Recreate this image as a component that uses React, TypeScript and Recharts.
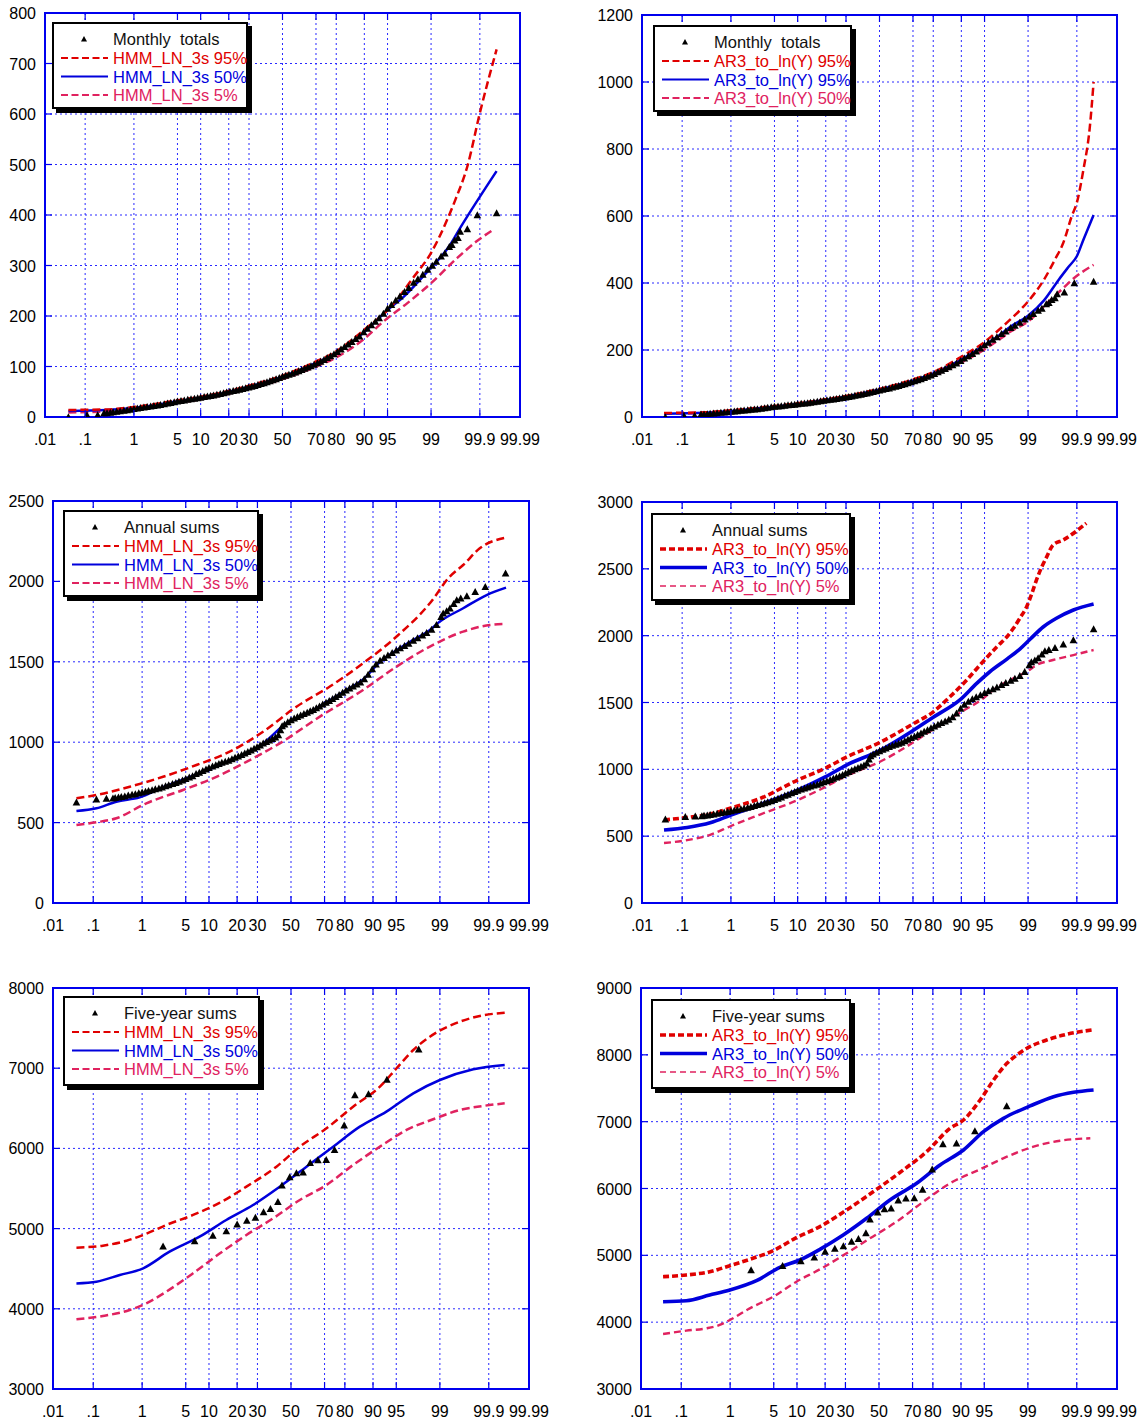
import React from 'react';
import { ComposedChart, Line, Scatter, XAxis, YAxis, CartesianGrid, ReferenceArea, Legend } from 'recharts';

type Pair = [number, number]; // [non-exceedance probability in %, value]

// ---- probability axis ----
const PROB_TICKS = [0.01, 0.1, 1, 5, 10, 20, 30, 50, 70, 80, 90, 95, 99, 99.9, 99.99];
const PROB_LABELS = ['.01', '.1', '1', '5', '10', '20', '30', '50', '70', '80', '90', '95', '99', '99.9', '99.99'];

// ---- value axes ----
const MONTHLY_TICKS_HMM = [0, 100, 200, 300, 400, 500, 600, 700, 800];
const MONTHLY_TICKS_AR3 = [0, 200, 400, 600, 800, 1000, 1200];
const ANNUAL_TICKS_HMM = [0, 500, 1000, 1500, 2000, 2500];
const ANNUAL_TICKS_AR3 = [0, 500, 1000, 1500, 2000, 2500, 3000];
const FIVEYR_TICKS_HMM = [3000, 4000, 5000, 6000, 7000, 8000];
const FIVEYR_TICKS_AR3 = [3000, 4000, 5000, 6000, 7000, 8000, 9000];

// ---- observed series ----
const MONTHLY_OBS: Pair[] = [
  [0.04, 0], [0.11, 4], [0.19, 4], [0.26, 8], [0.3, 8], [0.35, 9], [0.4, 10], [0.47, 11], [0.55, 12], [0.65, 13],
  [0.75, 14], [0.87, 15], [1.0, 16], [1.15, 17], [1.3, 18], [1.5, 19], [1.7, 20], [1.95, 21], [2.2, 22], [2.5, 23],
  [2.8, 24], [3.2, 25.5], [3.6, 27], [4.0, 28], [4.5, 29.5], [5.0, 31], [5.6, 32], [6.2, 33], [6.9, 34.5], [7.6, 35.5],
  [8.4, 36.5], [9.2, 37.5], [10, 38.5], [11, 40], [12, 41], [13, 42], [14, 43], [15.2, 44.5], [16.5, 46], [17.8, 47.5],
  [19.1, 49], [20.5, 50.5], [22, 52], [23.5, 53], [25, 54.5], [26.6, 56], [28.2, 57.5], [29.8, 59], [31.5, 60.5], [33.2, 62],
  [35, 64], [36.8, 65.5], [38.6, 67], [40.4, 69], [42.2, 71], [44, 73], [46, 75], [48, 77.5], [50, 80], [52, 82],
  [54, 84], [56, 86], [58, 88.5], [60, 91], [61.8, 93.5], [63.6, 96], [65.4, 98.5], [67.2, 101], [69, 104], [70.8, 107],
  [72.5, 110], [74.2, 113.5], [75.8, 117], [77.4, 120.5], [79, 124.5], [80.5, 129], [82, 134], [83.4, 139], [84.8, 144], [86.1, 149],
  [87.4, 155], [88.6, 160], [89.8, 168], [90.8, 175], [91.8, 182], [92.7, 189], [93.5, 196], [94.3, 205], [95, 215], [95.6, 222],
  [96.2, 231], [96.7, 239], [97.2, 248], [97.6, 256], [98, 266], [98.3, 273], [98.6, 282], [98.85, 292], [99.05, 300], [99.2, 308],
  [99.35, 318], [99.45, 324], [99.55, 337], [99.6, 341], [99.65, 350], [99.7, 355], [99.73, 367], [99.81, 372], [99.886, 400], [99.96, 404],
];
const ANNUAL_OBS: Pair[] = [
  [0.04, 626], [0.118, 645], [0.196, 649], [0.27, 651], [0.3, 654], [0.35, 657], [0.4, 660], [0.47, 664], [0.55, 669], [0.65, 674],
  [0.75, 678], [0.87, 683], [1.0, 688], [1.15, 693], [1.3, 698], [1.5, 703], [1.7, 708], [1.95, 714], [2.2, 720], [2.5, 727],
  [2.8, 734], [3.2, 741], [3.6, 748], [4.0, 755], [4.5, 763], [5.0, 772], [5.6, 781], [6.2, 790], [6.9, 803], [7.6, 812],
  [8.4, 822], [9.2, 832], [10, 841], [11, 850], [12, 858], [13, 866], [14, 873], [15.2, 880], [16.5, 886], [17.8, 895],
  [19.1, 904], [20.5, 913], [22, 922], [23.5, 931], [25, 940], [26.6, 950], [28.2, 960], [29.8, 970], [31.5, 981], [33.2, 993],
  [35, 1002], [36.8, 1012], [38.6, 1021], [40.4, 1030], [42.2, 1045], [43.5, 1075], [44.5, 1100], [46, 1112], [48, 1125], [50, 1137],
  [52, 1148], [54, 1158], [56, 1168], [58, 1177], [60, 1185], [61.8, 1193], [63.6, 1201], [65.4, 1212], [67.2, 1223], [69, 1235],
  [70.8, 1246], [72.5, 1258], [74.2, 1270], [75.8, 1282], [77.4, 1294], [79, 1308], [80.5, 1322], [82, 1335], [83.4, 1348], [84.8, 1360],
  [86.1, 1372], [87.4, 1392], [88.6, 1420], [89.8, 1455], [90.8, 1485], [91.8, 1508], [92.7, 1525], [93.5, 1540], [94.3, 1556], [95, 1572],
  [95.6, 1586], [96.2, 1600], [96.7, 1614], [97.2, 1632], [97.6, 1648], [98, 1665], [98.3, 1680], [98.6, 1700], [98.85, 1730], [99.05, 1780],
  [99.13, 1802], [99.25, 1815], [99.35, 1833], [99.45, 1860], [99.52, 1884], [99.6, 1895], [99.7, 1909], [99.8, 1936], [99.88, 1967], [99.96, 2050],
];
const FIVEYR_OBS: Pair[] = [
  [2.28, 4780], [6.6, 4845], [11.1, 4913], [15.6, 4970], [20.0, 5055], [24.5, 5100], [28.9, 5138], [33.4, 5205],
  [37.4, 5247], [41.9, 5333], [44.4, 5540], [49.2, 5643], [53.4, 5693], [57.5, 5703], [61.8, 5822], [66.3, 5855],
  [70.9, 5858], [75.2, 5983], [79.7, 6289], [84.1, 6666], [88.7, 6677], [93.3, 6858], [97.7, 7235],
];

// ---- HMM_LN_3s simulated quantiles ----
const HMM_MONTHLY_95: Pair[] = [[0.04, 14], [0.3, 15], [1, 20], [5, 33], [10, 40], [30, 62], [50, 82], [70, 110], [80, 130], [90, 173], [95.5, 218], [98, 277], [99, 325], [99.47, 384], [99.66, 430], [99.81, 496], [99.9, 602], [99.96, 728]];
const HMM_MONTHLY_50: Pair[] = [[0.04, 12], [0.3, 14], [1, 18], [5, 31], [10, 38], [30, 60], [50, 80], [70, 107], [80, 127], [90, 168], [95, 212], [97.1, 238], [98.9, 291], [99.54, 337], [99.74, 377], [99.96, 487]];
const HMM_MONTHLY_5: Pair[] = [[0.04, 9], [0.3, 11], [1, 15], [5, 28], [10, 35], [30, 56], [50, 75], [70, 100], [80, 118], [90, 155], [94.3, 189], [97.5, 226], [99, 265], [99.69, 315], [99.89, 350], [99.95, 370]];

const HMM_ANNUAL_95: Pair[] = [[0.04, 651], [0.118, 672], [0.587, 723], [2.28, 785], [6.97, 858], [16.9, 941], [33.1, 1065], [53.4, 1221], [72.8, 1346], [87, 1491], [95.05, 1657], [98.5, 1864], [99.345, 2030], [99.643, 2102], [99.841, 2206], [99.961, 2272]];
const HMM_ANNUAL_50: Pair[] = [[0.04, 572], [0.118, 589], [0.317, 630], [0.904, 657], [2.3, 720], [7, 800], [17, 885], [33, 990], [45, 1100], [63.5, 1200], [80.7, 1325], [87, 1390], [91.8, 1500], [95, 1570], [97.2, 1636], [98.5, 1698], [99, 1750], [99.643, 1833], [99.888, 1915], [99.961, 1961]];
const HMM_ANNUAL_5: Pair[] = [[0.04, 485], [0.118, 502], [0.317, 527], [1.19, 620], [4.58, 703], [12.2, 785], [24.3, 878], [43.05, 993], [67.4, 1159], [87, 1325], [95.05, 1470], [98.5, 1595], [99.643, 1688], [99.906, 1729], [99.955, 1735]];

const HMM_FIVEYR_95: Pair[] = [[0.04, 4762], [0.164, 4787], [0.508, 4849], [1.045, 4920], [2.56, 5045], [6.3, 5170], [13.35, 5323], [24.3, 5523], [41, 5772], [55.5, 6022], [71.05, 6250], [83.4, 6520], [91.77, 6770], [95.05, 6999], [97.2, 7227], [98.5, 7393], [99.585, 7580], [99.841, 7651], [99.958, 7692]];
const HMM_FIVEYR_50: Pair[] = [[0.04, 4317], [0.118, 4338], [0.374, 4421], [1.045, 4505], [2.89, 4712], [7.66, 4899], [15.6, 5107], [27.66, 5294], [43.05, 5523], [59.56, 5772], [74.5, 6022], [85.9, 6271], [93.2, 6458], [97.2, 6687], [99, 6853], [99.781, 6986], [99.958, 7040]];
const HMM_FIVEYR_5: Pair[] = [[0.04, 3869], [0.164, 3910], [0.587, 3985], [1.19, 4069], [2.56, 4213], [6.3, 4443], [13.35, 4692], [24.3, 4920], [39, 5128], [55.5, 5357], [71.05, 5544], [83.4, 5793], [91.77, 6022], [96.45, 6230], [98.68, 6363], [99.585, 6479], [99.865, 6529], [99.958, 6562]];

// ---- AR3_to_ln(Y) simulated quantiles ----
const AR3_MONTHLY_95: Pair[] = [[0.037, 12], [0.3, 14], [1, 20], [5, 33], [10, 41], [30, 63], [50, 84], [70, 112], [80, 134], [90, 180], [95, 224], [97, 262], [98, 292], [99, 345], [99.5, 410], [99.7, 470], [99.8, 520], [99.87, 600], [99.9, 640], [99.93, 740], [99.95, 860], [99.96, 1000]];
const AR3_MONTHLY_50: Pair[] = [[0.037, 10], [0.3, 13], [1, 18], [5, 31], [10, 39], [30, 61], [50, 82], [70, 109], [80, 130], [90, 172], [95, 215], [97, 245], [98, 270], [99, 302], [99.5, 348], [99.75, 410], [99.85, 450], [99.9, 480], [99.93, 530], [99.96, 603]];
const AR3_MONTHLY_5: Pair[] = [[0.037, 10], [0.3, 12], [1, 17], [5, 29], [10, 37], [30, 58], [50, 79], [70, 105], [80, 124], [90, 163], [95, 202], [97, 232], [98, 255], [99, 285], [99.6, 345], [99.8, 385], [99.87, 409], [99.96, 454]];

const AR3_ANNUAL_95: Pair[] = [[0.037, 621], [0.13, 640], [0.4, 665], [1, 711], [3, 780], [10, 920], [20, 1010], [30, 1090], [50, 1200], [70, 1340], [80, 1430], [86.5, 1543], [91.4, 1668], [94.2, 1780], [96.7, 1917], [97.7, 1992], [98.2, 2055], [98.6, 2130], [98.94, 2217], [99.15, 2317], [99.3, 2416], [99.45, 2516], [99.56, 2591], [99.67, 2678], [99.8, 2716], [99.94, 2841]];
const AR3_ANNUAL_50: Pair[] = [[0.037, 546], [0.13, 565], [0.4, 600], [1, 658], [3, 735], [10, 845], [20, 945], [30, 1030], [50, 1140], [70, 1290], [80, 1390], [89.6, 1519], [93.6, 1643], [95.8, 1730], [97.7, 1825], [98.6, 1900], [99.09, 1975], [99.48, 2065], [99.72, 2130], [99.88, 2192], [99.96, 2237]];
const AR3_ANNUAL_5: Pair[] = [[0.037, 449], [0.13, 470], [0.4, 510], [1, 576], [3, 660], [10, 770], [20, 870], [30, 950], [50, 1055], [70, 1200], [80, 1300], [90, 1430], [94.8, 1531], [96.25, 1593], [98.2, 1681], [98.94, 1730], [99.3, 1780], [99.67, 1818], [99.88, 1855], [99.96, 1893]];

const AR3_FIVEYR_95: Pair[] = [[0.037, 4680], [0.13, 4706], [0.408, 4755], [0.99, 4845], [2.17, 4940], [4.91, 5070], [9.85, 5264], [17.8, 5429], [30.6, 5678], [48.56, 5988], [64.8, 6277], [77.2, 6551], [86.65, 6900], [90.66, 7025], [94.3, 7324], [96.33, 7623], [97.72, 7873], [98.44, 7998], [98.96, 8098], [99.56, 8222], [99.804, 8297], [99.957, 8372]];
const AR3_FIVEYR_50: Pair[] = [[0.037, 4306], [0.13, 4321], [0.408, 4406], [0.99, 4481], [2.78, 4621], [6.06, 4820], [10.8, 4930], [17.8, 5090], [28.8, 5304], [42.35, 5554], [56.8, 5828], [72.2, 6078], [83, 6352], [90.66, 6576], [94.87, 6850], [97.41, 7050], [99.09, 7235], [99.681, 7374], [99.882, 7440], [99.96, 7474]];
const AR3_FIVEYR_5: Pair[] = [[0.037, 3823], [0.13, 3873], [0.351, 3908], [0.639, 3958], [0.99, 4033], [2.17, 4207], [4.91, 4381], [9.85, 4606], [17.8, 4791], [30.6, 5030], [44.4, 5255], [60.9, 5504], [75.6, 5803], [86.65, 6078], [94.3, 6287], [97.72, 6476], [99.213, 6626], [99.767, 6715], [99.952, 6751]];

// ---- styling ----
const FONT = '"Liberation Sans", Arial, Helvetica, sans-serif';
const RED = '#e00000';
const BLUE = '#0000dc';
const PINK = '#e0225f';
const GRID = '#2a2aff';
const FRAME = '#0000ee';

// inverse of the standard normal CDF (Acklam's rational approximation)
function normInv(p: number): number {
  const a = [-39.69683028665376, 220.9460984245205, -275.9285104469687, 138.357751867269, -30.66479806614716, 2.506628277459239];
  const b = [-54.47609879822406, 161.5858368580409, -155.6989798598866, 66.80131188771972, -13.28068155288572];
  const c = [-0.007784894002430293, -0.3223964580411365, -2.400758277161838, -2.549732539343734, 4.374664141464968, 2.938163982698783];
  const d = [0.007784695709041462, 0.3224671290700398, 2.445134137142996, 3.754408661907416];
  const pl = 0.02425;
  if (p < pl) {
    const q = Math.sqrt(-2 * Math.log(p));
    return (((((c[0] * q + c[1]) * q + c[2]) * q + c[3]) * q + c[4]) * q + c[5]) / ((((d[0] * q + d[1]) * q + d[2]) * q + d[3]) * q + 1);
  }
  if (p > 1 - pl) {
    const q = Math.sqrt(-2 * Math.log(1 - p));
    return -(((((c[0] * q + c[1]) * q + c[2]) * q + c[3]) * q + c[4]) * q + c[5]) / ((((d[0] * q + d[1]) * q + d[2]) * q + d[3]) * q + 1);
  }
  const q = p - 0.5;
  const r = q * q;
  return (((((a[0] * r + a[1]) * r + a[2]) * r + a[3]) * r + a[4]) * r + a[5]) * q / (((((b[0] * r + b[1]) * r + b[2]) * r + b[3]) * r + b[4]) * r + 1);
}
const toZ = (pct: number) => normInv(pct / 100);
const toPoints = (arr: Pair[]) => arr.map(([p, v]) => ({ z: toZ(p), v }));

const Z_TICKS = PROB_TICKS.map(toZ);
const Z_MIN = Z_TICKS[0];
const Z_MAX = Z_TICKS[Z_TICKS.length - 1];

interface Curve { label: string; color: string; data: Pair[]; width: number; dash?: string; legendWidth: number; legendDash?: string }
interface PanelSpec {
  id: string;
  left: number; top: number;
  x0: number; x1: number; y0: number; y1: number;
  yTicks: number[];
  title: string;
  obs: Pair[];
  curves: Curve[];
  box: { x: number; y: number; w: number; h: number };
}

const hmmCurves = (q95: Pair[], q50: Pair[], q5: Pair[]): Curve[] => [
  { label: 'HMM_LN_3s 95%', color: RED, data: q95, width: 2.5, dash: '8 4', legendWidth: 2, legendDash: '7 3.5' },
  { label: 'HMM_LN_3s 50%', color: BLUE, data: q50, width: 2.5, legendWidth: 2 },
  { label: 'HMM_LN_3s 5%', color: PINK, data: q5, width: 2.5, dash: '8 4', legendWidth: 2, legendDash: '7 3.5' },
];

const PANELS: PanelSpec[] = [
  {
    id: 'monthly-hmm', left: 0, top: 0, x0: 45, x1: 520, y0: 13, y1: 417,
    yTicks: MONTHLY_TICKS_HMM, title: 'Monthly  totals', obs: MONTHLY_OBS,
    curves: hmmCurves(HMM_MONTHLY_95, HMM_MONTHLY_50, HMM_MONTHLY_5),
    box: { x: 52, y: 22, w: 196, h: 87 },
  },
  {
    id: 'monthly-ar3', left: 580, top: 0, x0: 642, x1: 1117, y0: 15, y1: 417,
    yTicks: MONTHLY_TICKS_AR3, title: 'Monthly  totals', obs: MONTHLY_OBS,
    curves: [
      { label: 'AR3_to_ln(Y) 95%', color: RED, data: AR3_MONTHLY_95, width: 2.5, dash: '8 4', legendWidth: 2, legendDash: '7 3.5' },
      { label: 'AR3_to_ln(Y) 95%', color: BLUE, data: AR3_MONTHLY_50, width: 2.5, legendWidth: 2 },
      { label: 'AR3_to_ln(Y) 50%', color: PINK, data: AR3_MONTHLY_5, width: 2.5, dash: '8 4', legendWidth: 2, legendDash: '7 3.5' },
    ],
    box: { x: 653, y: 25, w: 199, h: 87 },
  },
  {
    id: 'annual-hmm', left: 0, top: 480, x0: 53, x1: 529, y0: 501, y1: 903,
    yTicks: ANNUAL_TICKS_HMM, title: 'Annual sums', obs: ANNUAL_OBS,
    curves: hmmCurves(HMM_ANNUAL_95, HMM_ANNUAL_50, HMM_ANNUAL_5),
    box: { x: 63, y: 510, w: 196, h: 87 },
  },
  {
    id: 'annual-ar3', left: 580, top: 480, x0: 642, x1: 1117, y0: 502, y1: 903,
    yTicks: ANNUAL_TICKS_AR3, title: 'Annual sums', obs: ANNUAL_OBS,
    curves: [
      { label: 'AR3_to_ln(Y) 95%', color: RED, data: AR3_ANNUAL_95, width: 3.6, dash: '6 3', legendWidth: 3.6, legendDash: '6 3' },
      { label: 'AR3_to_ln(Y) 50%', color: BLUE, data: AR3_ANNUAL_50, width: 3.6, legendWidth: 3.6 },
      { label: 'AR3_to_ln(Y) 5%', color: PINK, data: AR3_ANNUAL_5, width: 2.4, dash: '7 4', legendWidth: 1.5, legendDash: '6 4' },
    ],
    box: { x: 651, y: 513, w: 200, h: 88 },
  },
  {
    id: 'fiveyr-hmm', left: 0, top: 968, x0: 53, x1: 529, y0: 988, y1: 1389,
    yTicks: FIVEYR_TICKS_HMM, title: 'Five-year sums', obs: FIVEYR_OBS,
    curves: hmmCurves(HMM_FIVEYR_95, HMM_FIVEYR_50, HMM_FIVEYR_5),
    box: { x: 63, y: 996, w: 197, h: 90 },
  },
  {
    id: 'fiveyr-ar3', left: 580, top: 968, x0: 641, x1: 1117, y0: 988, y1: 1389,
    yTicks: FIVEYR_TICKS_AR3, title: 'Five-year sums', obs: FIVEYR_OBS,
    curves: [
      { label: 'AR3_to_ln(Y) 95%', color: RED, data: AR3_FIVEYR_95, width: 3.6, dash: '6 3', legendWidth: 3.6, legendDash: '6 3' },
      { label: 'AR3_to_ln(Y) 50%', color: BLUE, data: AR3_FIVEYR_50, width: 3.6, legendWidth: 3.6 },
      { label: 'AR3_to_ln(Y) 5%', color: PINK, data: AR3_FIVEYR_5, width: 2.4, dash: '7 4', legendWidth: 1.5, legendDash: '6 4' },
    ],
    box: { x: 651, y: 999, w: 200, h: 90 },
  },
];

// small filled triangle marker
const Triangle = (props: any) => {
  const { cx, cy } = props;
  if (cx == null || cy == null) return null;
  return <path d={`M${cx - 3.8},${cy + 3.2} L${cx + 3.8},${cy + 3.2} L${cx},${cy - 3.8} Z`} fill="#000" />;
};

function LegendBox({ spec }: { spec: PanelSpec }) {
  const { w, h } = spec.box;
  const rows = [17, 36, 54.5, 73];
  return (
    <div style={{ position: 'relative', width: w, height: h }}>
      <div style={{ position: 'absolute', left: 4, top: 4, width: w, height: h, background: '#000' }} />
      <svg width={w} height={h} style={{ position: 'absolute', left: 0, top: 0, overflow: 'visible' }}>
        <rect x={1} y={1} width={w - 2} height={h - 2} fill="#fff" stroke="#000" strokeWidth={2} />
        <path d={`M${32 - 3},${rows[0] + 2.5} L${32 + 3},${rows[0] + 2.5} L32,${rows[0] - 3} Z`} fill="#000" />
        <text x={61} y={rows[0] + 6} fontSize={16.5} fontFamily={FONT} fill="#111" style={{ whiteSpace: 'pre' }}>{spec.title}</text>
        {spec.curves.map((c, i) => (
          <g key={i}>
            <line x1={9} x2={56} y1={rows[i + 1]} y2={rows[i + 1]} stroke={c.color} strokeWidth={c.legendWidth} strokeDasharray={c.legendDash} />
            <text x={61} y={rows[i + 1] + 6} fontSize={16.5} fontFamily={FONT} fill={c.color}>{c.label}</text>
          </g>
        ))}
      </svg>
    </div>
  );
}

function Panel({ spec }: { spec: PanelSpec }) {
  const L = spec.x0 - spec.left;
  const T = spec.y0 - spec.top;
  const W = spec.x1 - spec.x0;
  const H = spec.y1 - spec.y0;
  const width = L + W + 25;
  const height = T + H + 34;
  const yMin = spec.yTicks[0];
  const yMax = spec.yTicks[spec.yTicks.length - 1];

  const xTick = (p: any) => {
    const x = p.x;
    const label = PROB_LABELS[p.index] ?? '';
    return (
      <g>
        <line x1={x} x2={x} y1={T + H} y2={T + H - 7} stroke={FRAME} strokeWidth={1.2} />
        <line x1={x} x2={x} y1={T} y2={T + 7} stroke={FRAME} strokeWidth={1.2} />
        <text x={x} y={T + H + 28} textAnchor="middle" fontSize={16} fontFamily={FONT} fill="#000">{label}</text>
      </g>
    );
  };
  const yTick = (p: any) => {
    const y = p.y;
    return (
      <g>
        <line x1={L} x2={L + 7} y1={y} y2={y} stroke={FRAME} strokeWidth={1.2} />
        <line x1={L + W} x2={L + W - 7} y1={y} y2={y} stroke={FRAME} strokeWidth={1.2} />
        <text x={L - 9} y={y + 6} textAnchor="end" fontSize={16} fontFamily={FONT} fill="#000">{p.payload.value}</text>
      </g>
    );
  };

  const order = [2, 1, 0];
  return (
    <ComposedChart width={width} height={height} margin={{ top: T, right: 25, bottom: 0, left: 0 }}>
      <CartesianGrid stroke={GRID} strokeWidth={1} strokeDasharray="2 3" />
      <XAxis type="number" dataKey="z" domain={[Z_MIN, Z_MAX]} ticks={Z_TICKS} interval={0} tick={xTick}
        tickLine={false} axisLine={false} height={34} allowDataOverflow />
      <YAxis type="number" dataKey="v" domain={[yMin, yMax]} ticks={spec.yTicks} interval={0} tick={yTick}
        tickLine={false} axisLine={false} width={L} allowDataOverflow />
      {order.map((i) => {
        const c = spec.curves[i];
        return (
          <Line key={i} data={toPoints(c.data)} dataKey="v" name={c.label} type="monotone" stroke={c.color}
            strokeWidth={c.width} strokeDasharray={c.dash} dot={false} activeDot={false} isAnimationActive={false} />
        );
      })}
      <Scatter data={toPoints(spec.obs)} dataKey="v" name={spec.title} shape={Triangle} isAnimationActive={false} />
      <ReferenceArea x1={Z_MIN} x2={Z_MAX} y1={yMin} y2={yMax} fill="none" fillOpacity={0} stroke={FRAME} strokeWidth={2} ifOverflow="visible" />
      <Legend layout="vertical" align="center" verticalAlign="middle"
        wrapperStyle={{ left: spec.box.x - spec.left, top: spec.box.y - spec.top, width: spec.box.w + 6, height: spec.box.h + 6 }}
        content={() => <LegendBox spec={spec} />} />
    </ComposedChart>
  );
}

export default function App() {
  return (
    <div style={{ position: 'absolute', left: 0, top: 0, width: 1145, height: 1423, background: '#fff', fontFamily: FONT }}>
      {PANELS.map((p) => (
        <div key={p.id} style={{ position: 'absolute', left: p.left, top: p.top }}>
          <Panel spec={p} />
        </div>
      ))}
    </div>
  );
}
